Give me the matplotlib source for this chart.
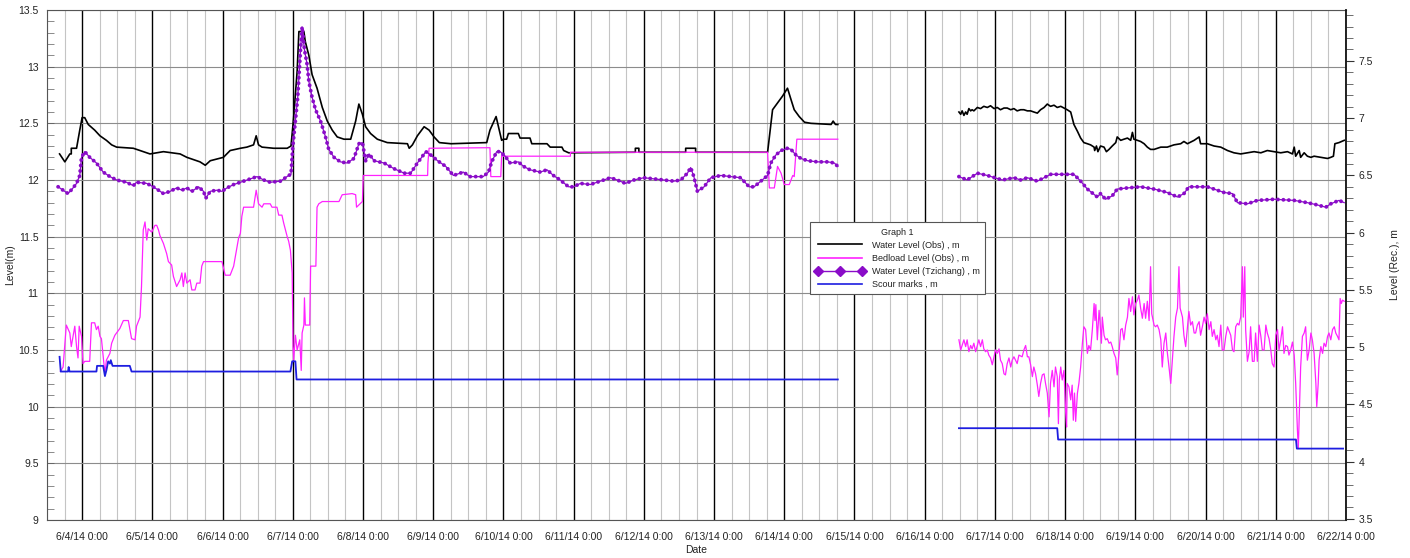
import matplotlib
matplotlib.use("Agg")
import matplotlib.pyplot as plt
from matplotlib.ticker import MultipleLocator, FixedLocator
from matplotlib.lines import Line2D

plt.rcParams['font.family'] = ['Liberation Sans', 'DejaVu Sans']

# ---- data: (hours since 6/4/14 0:00, level m) ----
wl_obs_a = [(-7.7,12.23),(-5.9,12.16),(-4.2,12.23),(-3.7,12.23),(-3.7,12.28),(-1.9,12.28),(-0.8,12.44),(0.0,12.55),(0.9,12.55),(2.1,12.49),
            (4.3,12.44),(6.1,12.39),(8.3,12.35),(10.1,12.31),(11.8,12.29),(17.5,12.28),(19.8,12.26),(23.2,12.23),(27.8,12.25),(33.5,12.23),
            (35.8,12.20),(40.3,12.16),(42.1,12.13),(43.8,12.17),(48.3,12.20),(50.6,12.26),(54.1,12.28),(56.3,12.29),(58.6,12.31),(59.5,12.39),
            (60.3,12.31),(61.5,12.29),(65.5,12.28),(70.1,12.28),(71.4,12.30),(72.3,12.55),(73.5,12.96),(74.1,13.31),(75.8,13.31),(76.3,13.22),
            (77.5,13.10),(78.6,12.93),(80.3,12.81),(82.1,12.64),(83.8,12.52),(85.5,12.44),(87.2,12.38),(89.5,12.36),(91.8,12.36),(93.5,12.52),
            (94.6,12.67),(95.8,12.58),(96.9,12.47),(98.6,12.41),(100.9,12.36),(104.3,12.33),(111.2,12.32),(111.8,12.28),(112.9,12.31),(114.6,12.39),
            (116.9,12.47),(118.6,12.44),(120.3,12.38),(122.1,12.33),(126.1,12.32),(138.3,12.33),(139.4,12.44),(141.5,12.56),(143.4,12.35),(144.0,12.36),
            (145.1,12.36),(145.7,12.41),(149.1,12.41),(149.7,12.37),(153.1,12.37),(153.7,12.32),(158.9,12.32),(160.0,12.29),(164.0,12.29),(164.6,12.26),
            (166.3,12.24),(189.1,12.245),(189.1,12.28),(190.3,12.28),(190.3,12.245),(206.3,12.245),(206.3,12.28),(209.7,12.28),(209.7,12.245),
            (234.3,12.245),(236.0,12.62),(237.7,12.68),(239.4,12.74),(241.1,12.81),(242.3,12.71),(243.4,12.62),(245.1,12.56),(246.9,12.51),
            (249.1,12.50),(256.0,12.49),(256.7,12.52),(257.5,12.49),(258.3,12.49)]

wl_obs_b = [(299.7,12.60),(300.3,12.58),(300.8,12.61),(301.4,12.57),(302.0,12.60),(302.5,12.58),(303.1,12.63),(303.7,12.61),(304.2,12.62),(304.8,12.61),
            (306.0,12.64),(307.1,12.63),(308.2,12.65),(309.4,12.64),(310.5,12.655),(311.7,12.63),(312.8,12.64),(313.9,12.62),(315.1,12.635),(316.2,12.635),
            (317.4,12.62),(318.5,12.63),(319.6,12.61),(320.8,12.62),(321.9,12.62),(323.1,12.61),(324.2,12.61),(325.3,12.60),(326.5,12.59),(327.6,12.62),
            (328.8,12.64),(329.9,12.67),(331.0,12.65),(332.2,12.66),(333.3,12.64),(334.5,12.65),(335.6,12.635),(336.7,12.62),(337.9,12.60),(339.0,12.49),
            (339.6,12.46),(340.2,12.43),(341.3,12.37),(342.4,12.33),(343.6,12.32),(344.7,12.31),(345.9,12.29),(346.1,12.26),(346.7,12.30),(347.2,12.25),
            (348.1,12.30),(349.3,12.29),(350.1,12.25),(351.0,12.27),(352.1,12.30),(353.3,12.33),(353.8,12.38),(355.0,12.35),(356.1,12.36),(357.3,12.37),
            (358.4,12.35),(359.0,12.42),(359.5,12.36),(360.7,12.35),(361.8,12.34),(363.0,12.32),(364.1,12.29),(365.2,12.27),(366.4,12.27),(368.7,12.29),
            (370.9,12.29),(373.2,12.31),(375.5,12.32),(376.6,12.34),(377.8,12.32),(380.1,12.35),(381.8,12.38),(382.3,12.32),(384.6,12.32),(386.9,12.30),
            (389.2,12.29),(391.5,12.26),(393.7,12.24),(396.0,12.23),(398.3,12.24),(400.6,12.25),(402.9,12.24),(405.1,12.26),(407.4,12.25),(409.7,12.24),
            (412.0,12.25),(413.7,12.23),(414.3,12.29),(414.8,12.21),(416.0,12.26),(416.5,12.20),(417.7,12.24),(418.8,12.21),(420.0,12.20),(421.1,12.21),
            (423.4,12.20),(425.7,12.19),(426.8,12.20),(427.7,12.21),(428.2,12.32),(429.6,12.33),(431.4,12.35)]

bedload_a = [(-7.4,10.31),(-6.5,10.35),(-5.4,10.72),(-4.2,10.65),(-3.7,10.53),(-3.1,10.62),(-2.5,10.71),(-1.9,10.53),(-1.4,10.43),(-1.0,10.71),
             (-0.2,10.62),(0.3,10.38),(0.9,10.40),(2.6,10.40),(3.2,10.74),(4.3,10.74),(4.9,10.68),(5.5,10.71),(6.1,10.62),(6.6,10.60),
             (7.8,10.29),(8.3,10.41),(9.5,10.47),(10.1,10.56),(11.2,10.63),(12.9,10.69),(14.1,10.76),(15.8,10.76),(16.9,10.60),(18.1,10.59),
             (18.6,10.71),(19.8,10.79),(20.3,11.06),(20.9,11.56),(21.5,11.63),(22.1,11.47),(22.6,11.57),(23.8,11.54),(24.9,11.60),(25.5,11.60),
             (26.1,11.56),(26.6,11.51),(27.8,11.44),(28.9,11.35),(29.5,11.28),(30.6,11.25),(31.2,11.15),(32.3,11.06),(33.5,11.12),(34.1,11.18),
             (34.6,11.06),(35.2,11.18),(35.8,11.09),(36.9,11.12),(37.5,11.03),(38.6,11.03),(39.2,11.09),(40.3,11.09),(40.9,11.24),(41.5,11.28),
             (47.8,11.28),(48.9,11.16),(50.6,11.16),(51.8,11.24),(53.5,11.49),(54.1,11.53),(54.6,11.68),(55.2,11.76),(58.6,11.76),(59.5,11.91),
             (60.3,11.79),(61.5,11.76),(62.1,11.79),(64.3,11.79),(64.9,11.76),(66.6,11.76),(67.2,11.69),(68.3,11.69),(68.9,11.62),(70.1,11.50),
             (70.6,11.46),(71.2,11.38),(71.8,11.18),(72.1,10.53),(72.3,10.41),(72.9,10.63),(73.5,10.50),(74.4,10.59),(74.9,10.32),(75.2,10.65),
             (75.8,10.72),(76.0,10.96),(76.3,10.72),(77.8,10.72),(78.1,11.24),(79.9,11.24),(80.3,11.76),(80.9,11.79),(82.1,11.81),(87.8,11.81),
             (88.9,11.87),(92.3,11.88),(93.5,11.87),(93.8,11.76),(95.0,11.79),(95.8,11.81),(96.1,12.04),(118.1,12.04),(118.2,12.15),(118.6,12.28),
             (139.4,12.285),(139.7,12.03),(143.1,12.03),(143.4,12.22),(144.0,12.21),(166.9,12.21),(166.9,12.245),(234.3,12.245),(234.9,11.93),
             (236.6,11.93),(237.7,12.12),(238.9,12.06),(240.0,11.96),(241.7,11.96),(242.9,12.04),(243.4,12.03),(244.3,12.36),(258.3,12.36)]

bedload_b = [(299.7,10.59),(300.3,10.50),(300.8,10.54),(301.4,10.59),(302.0,10.53),(302.5,10.59),(303.1,10.485),(303.7,10.54),(304.2,10.51),(304.8,10.56),
             (305.4,10.485),(306.0,10.54),(306.5,10.59),(307.1,10.53),(307.7,10.59),(308.2,10.51),(308.8,10.485),(309.4,10.50),(309.9,10.455),(310.5,10.43),
             (311.1,10.37),(311.7,10.44),(312.2,10.50),(312.8,10.47),(313.4,10.51),(313.9,10.41),(314.5,10.38),(315.1,10.29),(315.6,10.28),(316.2,10.38),
             (316.8,10.43),(317.4,10.35),(317.9,10.41),(318.5,10.44),(319.6,10.38),(320.2,10.455),(321.3,10.44),(321.9,10.50),(322.5,10.54),(323.1,10.44),
             (323.6,10.44),(324.2,10.37),(324.8,10.265),(325.3,10.35),(325.9,10.29),(326.5,10.19),(327.0,10.09),(327.6,10.205),(328.2,10.28),(328.8,10.29),
             (329.3,10.205),(329.9,10.12),(330.5,9.91),(331.0,10.205),(331.6,10.32),(332.2,10.175),(332.7,10.35),(333.3,10.265),(333.7,9.85),(334.0,10.235),
             (334.5,10.35),(335.0,10.235),(335.6,10.32),(336.2,9.94),(336.5,9.82),(336.7,10.205),(337.3,10.175),(337.9,10.06),(338.4,10.19),(338.8,9.88),
             (339.2,10.12),(339.6,9.87),(339.9,10.0),(340.2,10.12),(340.7,10.205),(341.3,10.35),(341.9,10.56),(342.4,10.705),(343.0,10.68),(343.6,10.47),
             (344.1,10.54),(344.7,10.50),(345.3,10.68),(345.9,10.91),(346.2,10.76),(346.5,10.90),(347.0,10.59),(347.6,10.85),(347.9,10.76),(348.4,10.56),
             (348.7,10.79),(349.3,10.63),(349.8,10.59),(350.4,10.60),(351.0,10.56),(351.6,10.57),(352.1,10.53),(352.7,10.47),(353.3,10.43),(353.8,10.28),
             (354.4,10.47),(355.0,10.68),(355.5,10.69),(356.1,10.59),(356.7,10.72),(357.3,10.79),(357.8,10.955),(358.4,10.84),(359.0,10.97),(359.5,10.81),
             (360.1,10.91),(360.7,10.94),(361.2,10.985),(361.8,10.87),(362.4,10.78),(363.0,10.91),(363.5,10.78),(364.1,10.93),(364.7,10.76),(365.2,11.235),
             (365.6,10.82),(366.4,10.72),(366.9,10.705),(367.5,10.72),(368.1,10.68),(368.7,10.59),(369.2,10.35),(369.8,10.56),(370.4,10.65),(370.9,10.485),
             (371.5,10.35),(372.1,10.205),(372.6,10.40),(373.2,10.62),(373.8,10.79),(374.4,10.87),(374.9,11.235),(375.3,10.87),(376.1,10.79),(376.6,10.63),
             (377.2,10.53),(377.8,10.705),(378.3,10.84),(378.9,10.72),(379.5,10.75),(380.1,10.65),(380.6,10.65),(381.2,10.72),(381.8,10.75),(382.3,10.63),
             (382.9,10.705),(383.5,10.79),(384.0,10.735),(384.6,10.82),(385.2,10.68),(385.8,10.75),(386.3,10.62),(386.9,10.68),(387.5,10.59),(388.0,10.63),
             (388.6,10.53),(389.2,10.72),(389.7,10.50),(390.3,10.50),(390.9,10.62),(391.5,10.705),(392.6,10.63),(393.2,10.50),(393.7,10.485),(394.3,10.705),
             (394.9,10.735),(395.4,10.72),(396.0,10.79),(396.6,11.235),(396.9,10.79),(397.4,11.235),(397.7,10.68),(398.3,10.40),(398.9,10.485),(399.4,10.705),
             (400.0,10.40),(400.6,10.40),(401.1,10.65),(401.7,10.40),(402.3,10.72),(402.9,10.62),(403.4,10.50),(404.0,10.50),(404.6,10.72),(405.1,10.65),
             (405.7,10.60),(406.3,10.50),(406.8,10.38),(407.4,10.35),(408.0,10.63),(408.6,10.68),(409.1,10.50),(409.7,10.59),(410.3,10.705),(410.8,10.47),
             (411.4,10.54),(412.0,10.53),(412.5,10.455),(413.1,10.50),(413.7,10.57),(414.3,10.455),(414.8,10.205),(415.4,9.79),(415.7,9.63),(416.1,10.0),
             (416.5,10.35),(417.1,10.62),(417.7,10.65),(418.2,10.705),(418.8,10.41),(419.4,10.50),(420.0,10.65),(420.5,10.59),(421.1,10.47),(421.7,10.205),
             (422.0,10.0),(422.5,10.205),(422.8,10.41),(423.4,10.53),(424.0,10.47),(424.5,10.56),(425.1,10.53),(425.7,10.62),(426.2,10.65),(426.8,10.59),
             (427.4,10.68),(428.0,10.705),(428.5,10.65),(429.1,10.62),(429.6,10.59),(430.0,10.955),(430.4,10.91),(430.8,10.94),(431.4,10.93)]

tzichang_a = [(-8.2,11.94),(-6.5,11.91),(-4.8,11.88),(-3.1,11.93),(-1.9,11.97),(-0.8,12.04),(-0.2,12.20),(0.9,12.25),(2.6,12.20),(4.9,12.15),
              (7.2,12.07),(9.5,12.03),(11.8,12.00),(15.2,11.98),(17.5,11.95),(18.6,11.98),(22.1,11.97),(24.3,11.94),(26.1,11.91),(27.8,11.88),
              (30.1,11.90),(32.3,11.93),(34.1,11.91),(35.8,11.93),(37.5,11.90),(39.8,11.94),(41.5,11.90),(42.3,11.84),(43.8,11.90),(46.1,11.91),
              (47.8,11.90),(49.5,11.93),(51.8,11.96),(54.1,11.98),(56.3,12.00),(59.8,12.03),(62.1,12.00),(64.3,11.98),(67.8,11.99),(70.6,12.04),
              (71.4,12.05),(72.0,12.29),(72.9,12.52),(73.7,12.73),(74.6,13.13),(75.2,13.35),(76.0,13.15),(76.9,13.02),(77.5,12.87),(78.6,12.73),
              (79.8,12.62),(81.5,12.52),(83.2,12.38),(84.3,12.27),(86.1,12.20),(88.3,12.16),(90.6,12.15),(92.9,12.19),(94.6,12.32),(95.8,12.33),
              (96.9,12.17),(98.1,12.23),(99.8,12.17),(103.2,12.15),(106.6,12.10),(110.1,12.06),(112.3,12.06),(114.6,12.15),(117.5,12.25),(119.2,12.22),
              (121.5,12.17),(124.3,12.12),(126.9,12.04),(130.3,12.07),(132.6,12.03),(137.1,12.03),(138.9,12.07),(140.0,12.16),(141.7,12.25),(142.9,12.25),
              (144.6,12.21),(146.3,12.15),(149.1,12.16),(150.9,12.12),(153.1,12.09),(156.6,12.07),(158.9,12.09),(161.1,12.04),(163.4,12.00),(166.3,11.94),
              (168.0,11.94),(170.3,11.97),(173.7,11.96),(177.1,11.99),(180.6,12.02),(182.9,12.00),(185.7,11.97),(188.6,12.00),(192.0,12.02),(195.4,12.01),
              (198.9,12.00),(202.3,11.99),(204.6,12.00),(206.9,12.06),(208.0,12.11),(209.1,12.03),(210.3,11.90),(212.6,11.94),(214.9,12.02),(218.3,12.04),
              (221.7,12.03),(225.1,12.02),(228.0,11.94),(229.7,11.94),(232.0,11.99),(234.3,12.04),(235.4,12.15),(237.1,12.22),(238.9,12.26),(241.1,12.28),
              (242.3,12.27),(244.0,12.22),(245.7,12.19),(248.0,12.17),(251.4,12.16),(254.9,12.16),(257.1,12.15),(258.3,12.12)]

tzichang_b = [(299.7,12.03),(302.5,12.00),(306.0,12.06),(309.4,12.04),(314.5,12.00),(318.5,12.02),(320.8,12.00),(323.1,12.02),(326.5,11.99),(328.8,12.02),
              (331.0,12.05),(339.0,12.05),(341.3,11.99),(343.6,11.92),(347.0,11.85),(348.1,11.88),(349.8,11.83),(352.1,11.86),(353.8,11.92),(357.3,11.93),
              (361.8,11.94),(366.4,11.92),(370.9,11.89),(374.4,11.85),(376.6,11.88),(378.3,11.94),(384.6,11.94),(388.0,11.91),(390.3,11.89),(393.2,11.88),
              (394.9,11.80),(398.3,11.79),(401.7,11.82),(407.4,11.83),(414.3,11.82),(418.8,11.80),(422.2,11.78),(425.1,11.76),(426.8,11.79),(429.6,11.82),
              (431.4,11.80)]

scour_a = [(-7.7,10.44),(-7.3,10.31),(-4.8,10.31),(-4.6,10.35),(-4.3,10.31),(4.9,10.31),(5.1,10.36),(7.2,10.36),(7.8,10.27),(8.3,10.32),
           (8.9,10.40),(9.5,10.38),(9.8,10.41),(10.4,10.36),(16.3,10.36),(16.9,10.31),(71.2,10.31),(71.8,10.40),(72.9,10.40),(73.3,10.24),
           (258.3,10.24)]
scour_b = [(299.7,9.81),(333.3,9.81),(333.6,9.71),(414.9,9.71),(415.2,9.63),(431.0,9.63)]

day_ticks_h = list(range(0, 433, 24))
day_labels = ["6/%d/14 0:00" % d for d in range(4, 23)]
left_ticks = [9, 9.5, 10, 10.5, 11, 11.5, 12, 12.5, 13, 13.5]
right_ticks = [3.5, 4, 4.5, 5, 5.5, 6, 6.5, 7, 7.5]

# ---- styling ----
C_BLACK = '#000000'
C_MAG = '#FF22FF'
C_PURP = '#8A0CC8'
C_BLUE = '#1E1EE0'

fig = plt.figure(figsize=(14.10, 5.58), dpi=100)
ax = fig.add_axes([47/1410, 38/558, 1299/1410, 510/558])

def xy(pairs):
    return [p[0] for p in pairs], [p[1] for p in pairs]

for seg in (wl_obs_a, wl_obs_b):
    x, y = xy(seg)
    ax.plot(x, y, color=C_BLACK, lw=1.2, zorder=4)
for seg in (bedload_a, bedload_b):
    x, y = xy(seg)
    ax.plot(x, y, color=C_MAG, lw=0.9, zorder=5)
for seg in (tzichang_a, tzichang_b):
    x, y = xy(seg)
    ax.plot(x, y, color=C_PURP, lw=0.9, zorder=6)
    ax.plot(x, y, color=C_PURP, lw=2.8, linestyle=(0, (0.01, 1.4)),
            dash_capstyle='round', zorder=6)
for seg in (scour_a, scour_b):
    x, y = xy(seg)
    ax.plot(x, y, color=C_BLUE, lw=1.3, zorder=7)

ax.set_xlim(-12, 432)
ax.set_ylim(9, 13.5)

ax.xaxis.set_major_locator(FixedLocator(day_ticks_h))
ax.set_xticklabels(day_labels)
ax.xaxis.set_minor_locator(MultipleLocator(6))
ax.yaxis.set_major_locator(FixedLocator(left_ticks))
ax.set_yticklabels([('%g' % v) for v in left_ticks])
ax.yaxis.set_minor_locator(MultipleLocator(0.1))

ax.grid(which='minor', axis='x', color='#c4c4c4', lw=0.8, zorder=1)
ax.grid(which='major', axis='x', color='#000000', lw=1.0, zorder=2)
ax.grid(which='major', axis='y', color='#8c8c8c', lw=0.8, zorder=2)
ax.set_axisbelow(True)

ax.tick_params(axis='x', which='both', length=0, pad=9, labelsize=7.5, labelcolor='#222222')
ax.tick_params(axis='y', which='major', direction='in', length=5, width=0.7, color='#666666',
               pad=6, labelsize=7.5, labelcolor='#222222')
ax.tick_params(axis='y', which='minor', direction='in', length=5, width=0.6, color='#777777')

for s in ('left', 'bottom', 'top'):
    ax.spines[s].set_color('#555555')
    ax.spines[s].set_linewidth(0.8)
ax.spines['right'].set_visible(False)

ax.set_ylabel('Level(m)', fontsize=7.5, color='#222222', labelpad=2)
ax.set_xlabel('Date', fontsize=7.5, color='#222222', labelpad=2)

ax2 = ax.twinx()
ax2.set_ylim(3.49, 7.945)
ax2.yaxis.set_major_locator(FixedLocator(right_ticks))
ax2.set_yticklabels([('%g' % v) for v in right_ticks])
ax2.yaxis.set_minor_locator(MultipleLocator(0.1))
ax2.tick_params(axis='y', which='major', direction='out', length=6, width=0.8, color='#333333',
                pad=3, labelsize=7.5, labelcolor='#222222')
ax2.tick_params(axis='y', which='minor', direction='out', length=5, width=0.6, color='#555555')
for s in ('left', 'bottom', 'top'):
    ax2.spines[s].set_visible(False)
ax2.spines['right'].set_color('#111111')
ax2.spines['right'].set_linewidth(1.3)
ax2.set_ylabel('Level (Rec.), m', fontsize=7.5, color='#222222', rotation=90, labelpad=12)

handles = [Line2D([], [], color=C_BLACK, lw=1.2),
           Line2D([], [], color=C_MAG, lw=1.2),
           Line2D([], [], color=C_PURP, lw=1.0, marker='D', markersize=5.5),
           Line2D([], [], color=C_BLUE, lw=1.2)]
labels = ['Water Level (Obs) , m', 'Bedload Level (Obs) , m',
          'Water Level (Tzichang) , m', 'Scour marks , m']
leg = ax2.legend(handles, labels, title='Graph 1', loc='upper left',
                 bbox_to_anchor=(0.587, 0.584), borderaxespad=0, fontsize=6.5,
                 title_fontsize=6.5, numpoints=3, handlelength=5.5, handletextpad=0.8,
                 labelspacing=0.45, borderpad=0.6, fancybox=False, framealpha=1,
                 edgecolor='#555555', facecolor='white')
leg.get_frame().set_linewidth(0.8)
for t in leg.get_texts():
    t.set_color('#222222')
leg.get_title().set_color('#222222')

fig.savefig('out.png', dpi=100)
